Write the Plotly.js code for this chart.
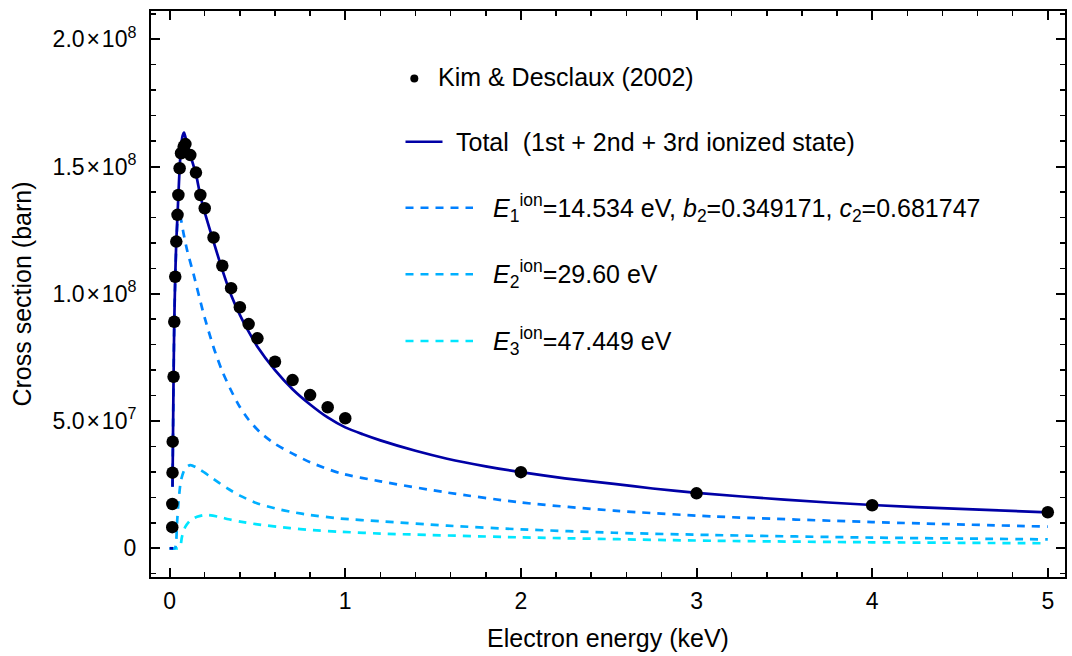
<!DOCTYPE html>
<html>
<head>
<meta charset="utf-8">
<script src="https://cdn.plot.ly/plotly-3.0.1.min.js"></script>
<style>html,body{margin:0;padding:0;background:#fff;}#chart{width:1072px;height:656px;}</style>
</head>
<body>
<div id="chart"></div>
<script>
// Kim & Desclaux (2002) reference points (energy in keV, cross section in barn)
var kimEnergy = [0.015, 0.0155, 0.0165, 0.0175, 0.0225, 0.0265, 0.032, 0.038, 0.045, 0.05, 0.057, 0.065, 0.08, 0.09, 0.118, 0.15, 0.175, 0.2, 0.25, 0.3, 0.35, 0.4, 0.45, 0.5, 0.6, 0.7, 0.8, 0.9, 1.0, 2.0, 3.0, 4.0, 5.0];
var kimSigma = [8.3e6, 1.74e7, 2.97e7, 4.19e7, 6.74e7, 8.9e7, 1.067e8, 1.205e8, 1.31e8, 1.388e8, 1.493e8, 1.552e8, 1.578e8, 1.588e8, 1.545e8, 1.476e8, 1.388e8, 1.336e8, 1.221e8, 1.11e8, 1.022e8, 9.47e7, 8.81e7, 8.25e7, 7.33e7, 6.61e7, 6.02e7, 5.54e7, 5.11e7, 2.99e7, 2.16e7, 1.69e7, 1.415e7];

// Total (1st + 2nd + 3rd ionized state); null separates the zero part below threshold
var totalEnergy = [0, 0.02, null, 0.0165, 0.0225, 0.0265, 0.032, 0.038, 0.045, 0.05, 0.057, 0.065, 0.074, 0.082, 0.09, 0.1, 0.118, 0.15, 0.175, 0.2, 0.25, 0.3, 0.35, 0.4, 0.45, 0.5, 0.6, 0.7, 0.8, 0.9, 1.0, 1.1, 1.2, 1.4, 1.58, 1.8, 2.0, 2.25, 2.53, 2.75, 3.0, 3.5, 4.0, 4.5, 5.0];
var totalSigma = [0, 0, null, 2.42e7, 6.74e7, 8.9e7, 1.067e8, 1.205e8, 1.31e8, 1.388e8, 1.493e8, 1.575e8, 1.62e8, 1.633e8, 1.615e8, 1.59e8, 1.545e8, 1.47e8, 1.385e8, 1.32e8, 1.205e8, 1.094e8, 9.95e7, 9.17e7, 8.51e7, 7.92e7, 7.0e7, 6.25e7, 5.65e7, 5.14e7, 4.75e7, 4.48e7, 4.24e7, 3.83e7, 3.52e7, 3.22e7, 2.99e7, 2.75e7, 2.53e7, 2.35e7, 2.18e7, 1.91e7, 1.70e7, 1.545e7, 1.415e7];

// 1st ionized state, E1 = 14.534 eV
var e1Energy = [0.0165, 0.0225, 0.0265, 0.032, 0.038, 0.045, 0.051, 0.06, 0.079, 0.1, 0.137, 0.194, 0.25, 0.3, 0.35, 0.4, 0.45, 0.516, 0.6, 0.7, 0.8, 0.972, 1.2, 1.58, 2.0, 2.53, 3.1, 4.0, 5.0];
var e1Sigma = [2.42e7, 6.7e7, 8.85e7, 1.055e8, 1.19e8, 1.29e8, 1.335e8, 1.31e8, 1.238e8, 1.17e8, 1.075e8, 9.2e7, 7.9e7, 6.95e7, 6.2e7, 5.55e7, 5.05e7, 4.55e7, 4.1e7, 3.72e7, 3.38e7, 2.95e7, 2.63e7, 2.19e7, 1.8e7, 1.48e7, 1.25e7, 1.03e7, 8.5e6];

// 2nd ionized state, E2 = 29.60 eV
var e2Energy = [0, 0.0296, 0.042, 0.051, 0.065, 0.089, 0.118, 0.175, 0.232, 0.327, 0.4, 0.497, 0.6, 0.7, 0.8, 0.972, 1.2, 1.58, 2.0, 2.53, 3.1, 4.0, 5.0];
var e2Sigma = [0, 0, 9.8e6, 1.83e7, 2.68e7, 3.14e7, 3.27e7, 3.08e7, 2.81e7, 2.36e7, 2.07e7, 1.77e7, 1.57e7, 1.42e7, 1.31e7, 1.17e7, 1.06e7, 8.9e6, 7.45e6, 6.1e6, 5.2e6, 4.2e6, 3.5e6];

// 3rd ionized state, E3 = 47.449 eV
var e3Energy = [0, 0.0474, 0.06, 0.07, 0.089, 0.118, 0.156, 0.203, 0.279, 0.336, 0.402, 0.5, 0.687, 0.8, 0.972, 1.2, 2.0, 3.1, 4.0, 5.0];
var e3Sigma = [0, 0, 5e5, 4.4e6, 8.4e6, 1.1e7, 1.24e7, 1.31e7, 1.24e7, 1.14e7, 1.05e7, 9.4e6, 7.9e6, 7.2e6, 6.5e6, 5.8e6, 4.3e6, 2.95e6, 2.36e6, 1.96e6];

// Axis ticks
var xTickVals = [0, 1, 2, 3, 4, 5];
var xTickText = ['0', '1', '2', '3', '4', '5'];
var yTickVals = [0, 5e7, 1e8, 1.5e8, 2e8];
var yTickText = ['0', '5.0\u200a\u00d7\u200a10<sup>7</sup>', '1.0\u200a\u00d7\u200a10<sup>8</sup>', '1.5\u200a\u00d7\u200a10<sup>8</sup>', '2.0\u200a\u00d7\u200a10<sup>8</sup>'];

// Legend labels
var legendKim = 'Kim & Desclaux (2002)';
var legendTotal = 'Total\u00a0 (1st + 2nd + 3rd ionized state)';
var legendE1 = '<i>E</i><sub>1</sub><sup>ion</sup>=14.534 eV, <i>b</i><sub>2</sub>=0.349171, <i>c</i><sub>2</sub>=0.681747';
var legendE2 = '<i>E</i><sub>2</sub><sup>ion</sup>=29.60 eV';
var legendE3 = '<i>E</i><sub>3</sub><sup>ion</sup>=47.449 eV';

var cTotal = '#0000a6', cE1 = '#0080ff', cE2 = '#00b0ff', cE3 = '#00e6ff';
var FONT = 'Liberation Sans, Arial, sans-serif';
var dashPat = '8px,7px';
var LW = 2.7;

var traces = [
  {x: e3Energy, y: e3Sigma, mode: 'lines', line: {color: cE3, width: LW, dash: dashPat, shape: 'spline', smoothing: 0.7}, showlegend: false, hoverinfo: 'skip'},
  {x: e2Energy, y: e2Sigma, mode: 'lines', line: {color: cE2, width: LW, dash: dashPat, shape: 'spline', smoothing: 0.7}, showlegend: false, hoverinfo: 'skip'},
  {x: e1Energy, y: e1Sigma, mode: 'lines', line: {color: cE1, width: LW, dash: dashPat, shape: 'spline', smoothing: 0.7}, showlegend: false, hoverinfo: 'skip'},
  {x: totalEnergy, y: totalSigma, mode: 'lines', connectgaps: false, line: {color: cTotal, width: 2.7, shape: 'spline', smoothing: 0.7}, showlegend: false, hoverinfo: 'skip'},
  {x: kimEnergy, y: kimSigma, mode: 'markers', marker: {color: '#000', size: 12.5}, showlegend: false, hoverinfo: 'skip'},
  // empty trace that carries the mirrored (top/right) tick axes
  {x: [], y: [], xaxis: 'x2', yaxis: 'y2', mode: 'markers', showlegend: false, hoverinfo: 'skip'}
];

// legend geometry (paper coords)
function px2x(p) { return (p - 151) / 914; }
function py2y(p) { return (577 - p) / 566; }

var rows = [
  {y: 77.5, text: legendKim, tx: 436.5, kind: 'dot'},
  {y: 141.7, text: legendTotal, tx: 455, kind: 'solid', color: cTotal},
  {y: 207.7, text: legendE1, tx: 491.5, kind: 'dash', color: cE1},
  {y: 274.3, text: legendE2, tx: 491.5, kind: 'dash', color: cE2},
  {y: 341, text: legendE3, tx: 491.5, kind: 'dash', color: cE3}
];

var shapes = [], annotations = [];
rows.forEach(function (r) {
  if (r.kind === 'dot') {
    shapes.push({type: 'circle', xref: 'paper', yref: 'paper', xsizemode: 'pixel', ysizemode: 'pixel',
      xanchor: px2x(414.3), yanchor: py2y(r.y + 1), x0: -4, x1: 4, y0: -4, y1: 4,
      fillcolor: '#000', line: {width: 0}});
  } else {
    var len = r.kind === 'solid' ? 37 : 67.5;
    shapes.push({type: 'line', xref: 'paper', yref: 'paper', xsizemode: 'pixel', ysizemode: 'pixel',
      xanchor: px2x(405.5), yanchor: py2y(r.y), x0: 0, x1: len, y0: 0, y1: 0,
      line: {color: r.color, width: 2.6, dash: r.kind === 'dash' ? dashPat : 'solid'}});
  }
  annotations.push({xref: 'paper', yref: 'paper', x: px2x(r.tx), y: py2y(r.y), xanchor: 'left', yanchor: 'middle',
    text: r.text, showarrow: false, borderpad: 0, font: {family: FONT, size: 25, color: '#000'}});
});

var X_RANGE = [-0.106, 5.098];
var Y_RANGE = [-1.128e7, 2.111e8];
var xMinor = {tickmode: 'linear', tick0: 0, dtick: 0.2, ticks: 'inside', ticklen: 5, tickwidth: 1.5, tickcolor: '#000', showgrid: false};
var yMinor = {tickmode: 'linear', tick0: 0, dtick: 1e7, ticks: 'inside', ticklen: 5, tickwidth: 1.5, tickcolor: '#000', showgrid: false};

var axisCommon = {
  ticks: 'inside', ticklen: 9, tickwidth: 2, tickcolor: '#000',
  showline: true, linewidth: 2, linecolor: '#000', mirror: true,
  showgrid: false, zeroline: false,
  tickfont: {family: FONT, size: 23, color: '#000'}
};

var layout = {
  width: 1072, height: 656,
  margin: {l: 151, r: 7, t: 11, b: 79, pad: 0},
  paper_bgcolor: '#fff', plot_bgcolor: '#fff',
  showlegend: false,
  font: {family: FONT, color: '#000'},
  xaxis: Object.assign({}, axisCommon, {
    range: X_RANGE, tickmode: 'array', tickvals: xTickVals, ticktext: xTickText,
    minor: xMinor, ticklabelstandoff: 2,
    title: {text: 'Electron energy (keV)', font: {family: FONT, size: 25, color: '#000'}, standoff: 17}
  }),
  yaxis: Object.assign({}, axisCommon, {
    range: Y_RANGE, tickmode: 'array', tickvals: yTickVals, ticktext: yTickText,
    minor: yMinor, ticklabelstandoff: 8,
    title: {text: 'Cross section (barn)', font: {family: FONT, size: 25, color: '#000'}, standoff: 14}
  }),
  xaxis2: {
    overlaying: 'x', side: 'top', anchor: 'y', range: X_RANGE, tickmode: 'array', tickvals: xTickVals,
    showticklabels: false, ticks: 'inside', ticklen: 9, tickwidth: 2, tickcolor: '#000',
    minor: xMinor, showline: false, showgrid: false, zeroline: false
  },
  yaxis2: {
    overlaying: 'y', side: 'right', anchor: 'x', range: Y_RANGE, tickmode: 'array', tickvals: yTickVals,
    showticklabels: false, ticks: 'inside', ticklen: 9, tickwidth: 2, tickcolor: '#000',
    minor: yMinor, showline: false, showgrid: false, zeroline: false
  },
  shapes: shapes,
  annotations: annotations
};

Plotly.newPlot('chart', traces, layout, {staticPlot: true, displayModeBar: false});
</script>
</body>
</html>
